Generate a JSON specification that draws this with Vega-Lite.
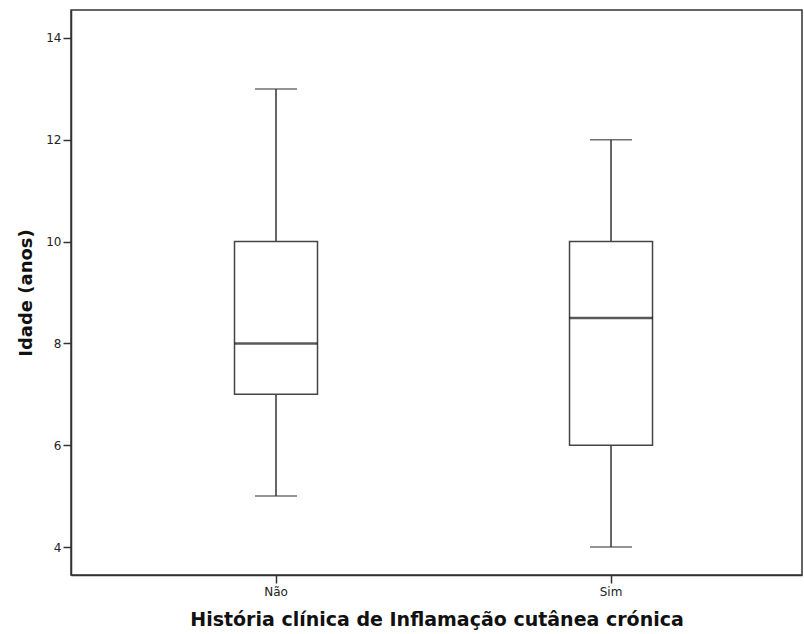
{
  "$schema": "https://vega.github.io/schema/vega-lite/v6.json",
  "width": 731,
  "height": 565,
  "autosize": "none",
  "padding": {"left": 71, "top": 10, "right": 2, "bottom": 59},
  "background": "white",
  "config": {
    "view": {"stroke": "#333333", "strokeWidth": 1.5},
    "font": "DejaVu Sans"
  },
  "data": {
    "values": [
      {"grupo": "Não", "min": 5, "q1": 7, "median": 8, "q3": 10, "max": 13},
      {"grupo": "Sim", "min": 4, "q1": 6, "median": 8.5, "q3": 10, "max": 12}
    ]
  },
  "encoding": {
    "x": {
      "field": "grupo",
      "type": "nominal",
      "sort": ["Não", "Sim"],
      "scale": {"type": "band", "paddingInner": 0, "paddingOuter": 0.091, "align": 0.615},
      "axis": {
        "title": "História clínica de Inflamação cutânea crónica",
        "titleFont": "DejaVu Sans",
        "titleFontSize": 19,
        "titleFontWeight": "bold",
        "titleColor": "#111111",
        "titlePadding": 13,
        "labelAngle": 0,
        "labelFontSize": 12,
        "labelColor": "#222222",
        "labelPadding": 3,
        "tickSize": 8,
        "tickColor": "#333333",
        "tickWidth": 1.5,
        "domainColor": "#333333",
        "domainWidth": 1.5,
        "grid": false
      }
    }
  },
  "layer": [
    {
      "mark": {"type": "rule", "color": "#333333", "strokeWidth": 1.5},
      "encoding": {
        "y": {
          "field": "min",
          "type": "quantitative",
          "scale": {"domain": [3.45, 14.55], "nice": false, "zero": false},
          "axis": {
            "title": "Idade (anos)",
            "titleFont": "DejaVu Sans",
            "titleFontSize": 18,
            "titleFontWeight": "bold",
            "titleColor": "#111111",
            "titlePadding": 10,
            "values": [4, 6, 8, 10, 12, 14],
            "labelFontSize": 12,
            "labelColor": "#222222",
            "labelPadding": 2,
            "tickSize": 8,
            "tickColor": "#333333",
            "tickWidth": 1.5,
            "domainColor": "#333333",
            "domainWidth": 1.5,
            "grid": false
          }
        },
        "y2": {"field": "max"}
      }
    },
    {
      "mark": {"type": "bar", "size": 83, "fill": "white", "stroke": "#444444", "strokeWidth": 1.5},
      "encoding": {
        "y": {"field": "q1", "type": "quantitative"},
        "y2": {"field": "q3"}
      }
    },
    {
      "mark": {"type": "tick", "size": 42, "orient": "horizontal", "color": "#333333", "thickness": 1.5},
      "encoding": {"y": {"field": "min", "type": "quantitative"}}
    },
    {
      "mark": {"type": "tick", "size": 42, "orient": "horizontal", "color": "#333333", "thickness": 1.5},
      "encoding": {"y": {"field": "max", "type": "quantitative"}}
    },
    {
      "mark": {"type": "tick", "size": 83, "orient": "horizontal", "color": "#111111", "thickness": 2.5},
      "encoding": {"y": {"field": "median", "type": "quantitative"}}
    }
  ]
}
